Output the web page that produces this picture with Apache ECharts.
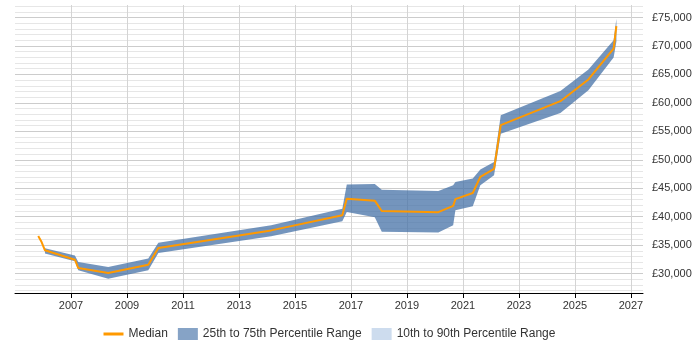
<!DOCTYPE html>
<html>
<head>
<meta charset="utf-8">
<script src="https://cdn.jsdelivr.net/npm/echarts@6/dist/echarts.min.js"></script>
<style>
  html, body { margin: 0; padding: 0; background: #fff; }
  #chart { width: 700px; height: 350px; }
</style>
</head>
<body>
<div id="chart"></div>
<script>
// median salary, x in decimal years
var medianYears = [2005.83, 2005.95, 2006.07, 2007.14, 2007.26, 2008.33, 2009.76, 2010.12, 2014.15, 2016.69,
  2016.85, 2017.85, 2018.1, 2020.12, 2020.65, 2020.73, 2021.35, 2021.62, 2022.11, 2022.35,
  2024.48, 2025.48, 2026.38, 2026.48];
var medianValues = [36600, 35550, 34100, 32450, 30980, 30100, 31580, 34500, 37600, 40250,
  43180, 42820, 41000, 40800, 41900, 43100, 44170, 47000, 48400, 56100,
  60300, 64120, 69550, 73500];

// 25th / 75th percentile band
var bandYears = [2006.07, 2007.14, 2007.26, 2008.33, 2009.76, 2010.12, 2014.15, 2016.69, 2016.85, 2017.85,
  2018.1, 2020.12, 2020.65, 2020.73, 2021.35, 2021.62, 2022.11, 2022.35, 2024.48, 2025.48,
  2026.38, 2026.48];
var p75 = [34450, 33200, 32040, 31160, 32640, 35450, 38490, 41420, 45670, 45760,
  44760, 44520, 45520, 46100, 46700, 48280, 49620, 57820, 62100, 65860,
  71010, 74800];
var p25 = [33520, 32160, 30580, 29120, 30580, 33620, 36560, 39200, 40820, 39900,
  37370, 37250, 38490, 41130, 41830, 45520, 47280, 54600, 58230, 62220,
  67970, 70800];

// 10th / 90th band (not visible in the picture)
var p10Data = [];

var FONT = '"Liberation Sans", Arial, sans-serif';

function money(v) {
  return '£' + String(v).replace(/\B(?=(\d{3})+(?!\d))/g, ',');
}

// horizontal grid: darker every £5,000, light for each £1,000
var yMin = 26600, yMax = 77200;
var lineColors = [];
for (var v = Math.ceil(yMin / 1000) * 1000; v <= yMax; v += 1000) {
  lineColors.push(v % 5000 === 0 ? '#cccccc' : '#e6e6e6');
}

var chart = echarts.init(document.getElementById('chart'));

function bandRender(params, api) {
  if (params.dataIndex !== 0) return null;
  var pts = [];
  for (var i = 0; i < bandYears.length; i++) pts.push(api.coord([bandYears[i], p75[i]]));
  for (var j = bandYears.length - 1; j >= 0; j--) pts.push(api.coord([bandYears[j], p25[j]]));
  return {
    type: 'polygon',
    shape: { points: pts },
    style: { fill: 'rgba(69,114,167,0.75)' }
  };
}

var option = {
  animation: false,
  textStyle: { fontFamily: FONT },
  grid: { left: 15, right: 57, top: 5, bottom: 57, outerBoundsMode: 'none' },
  legend: {
    bottom: 5,
    left: 97,
    itemWidth: 20,
    itemHeight: 12,
    itemGap: 10,
    textStyle: { fontFamily: FONT, fontSize: 12, color: '#333' },
    data: [
      { name: 'Median', itemStyle: { opacity: 0 }, lineStyle: { width: 3 } },
      { name: '25th to 75th Percentile Range', icon: 'rect' },
      { name: '10th to 90th Percentile Range', icon: 'rect' }
    ]
  },
  xAxis: {
    type: 'value',
    min: 2005,
    max: 2027.43,
    interval: 2,
    axisLine: { show: true, lineStyle: { color: '#000', width: 1 } },
    axisTick: { show: true, length: 5, lineStyle: { color: '#000' } },
    axisLabel: {
      showMinLabel: false,
      showMaxLabel: false,
      margin: 7,
      fontSize: 11,
      color: '#333',
      fontFamily: FONT,
      formatter: function (v) { return String(Math.round(v)); }
    },
    splitLine: { show: true, showMinLine: false, showMaxLine: false, lineStyle: { color: '#d4d4d4' } }
  },
  yAxis: {
    type: 'value',
    position: 'right',
    min: yMin,
    max: yMax,
    minInterval: 1000,
    maxInterval: 1000,
    axisLine: { show: false },
    axisTick: { show: false },
    axisLabel: {
      margin: 9,
      fontSize: 11,
      color: '#333',
      fontFamily: FONT,
      formatter: function (v) { return v % 5000 === 0 ? money(v) : ''; }
    },
    splitLine: { show: true, showMinLine: false, showMaxLine: false, lineStyle: { color: lineColors } }
  },
  series: [
    {
      name: '10th to 90th Percentile Range',
      type: 'custom',
      itemStyle: { color: '#cddcee' },
      data: p10Data,
      renderItem: function () { return null; }
    },
    {
      name: '25th to 75th Percentile Range',
      type: 'custom',
      itemStyle: { color: 'rgba(69,114,167,0.65)' },
      encode: { x: 0, y: [1, 2] },
      data: bandYears.map(function (x, i) { return [x, p25[i], p75[i]]; }),
      renderItem: bandRender
    },
    {
      name: 'Median',
      type: 'line',
      symbol: 'none',
      color: '#ff9900',
      lineStyle: { color: '#ff9900', width: 2 },
      data: medianYears.map(function (x, i) { return [x, medianValues[i]]; })
    }
  ]
};

chart.setOption(option);
</script>
</body>
</html>
